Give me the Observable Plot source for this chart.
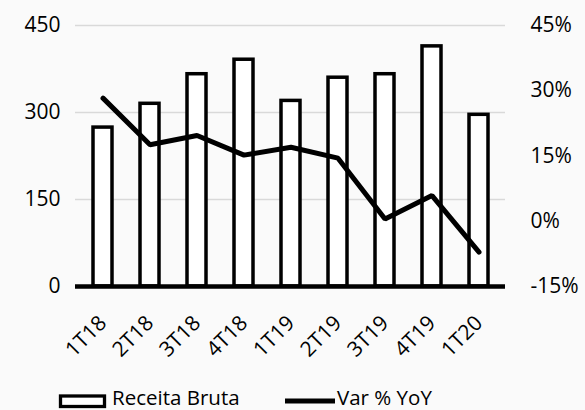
<!DOCTYPE html>
<html><head><meta charset="utf-8">
<script src="https://cdn.jsdelivr.net/npm/d3@7"></script>
<script src="https://cdn.jsdelivr.net/npm/@observablehq/plot@0.6"></script>
<style>
body{margin:0;background:#fafafa;font-family:"Open Sans",sans-serif;}
#wrap{position:relative;width:585px;height:410px;overflow:hidden;background:#fafafa;}
#chart{position:absolute;left:0;top:0;}
#legend{position:absolute;left:0;top:380px;}
</style></head><body>
<div id="wrap"><div id="chart"></div><div id="legend"></div></div>
<script>
const quarters = ["1T18","2T18","3T18","4T18","1T19","2T19","3T19","4T19","1T20"];
const receitaBruta = [274, 315, 366, 391, 320, 360, 366, 414, 296];
const varYoY = [28.3, 17.6, 19.7, 15.2, 17.0, 14.5, 0.5, 5.9, -7.1];
const leftTicks = [0, 150, 300, 450];
const rightTicks = [-15, 0, 15, 30, 45];
const legendLabels = ["Receita Bruta", "Var % YoY"];

const toLeft = p => (p + 15) / 60 * 450;
const data = quarters.map((q, i) => ({q, v: receitaBruta[i], p: varYoY[i]}));

const chart = Plot.plot({
  width: 585, height: 380,
  marginLeft: 75, marginRight: 80, marginTop: 25, marginBottom: 94,
  style: {background: "transparent", fontFamily: "'Open Sans', sans-serif", fontSize: "21px", color: "#000"},
  x: {domain: quarters, paddingInner: 0.6, paddingOuter: 0.3, label: null},
  y: {domain: [0, 450], label: null},
  marks: [
    Plot.gridY(leftTicks.filter(d => d > 0), {stroke: "#d9d9d9", strokeOpacity: 1, strokeWidth: 1.5}),
    Plot.axisY(leftTicks, {anchor: "left", tickSize: 0, tickPadding: 15, label: null, fontSize: 21}),
    Plot.axisY(rightTicks.map(toLeft), {anchor: "right", tickSize: 0, tickPadding: 25, label: null, fontSize: 21,
      tickFormat: d => Math.round(d / 450 * 60 - 15) + "%"}),
    Plot.axisX({tickRotate: -45, tickSize: 0, tickPadding: 33, label: null, fontSize: 21}),
    Plot.barY(data, {x: "q", y: "v", fill: "white", stroke: "black", strokeWidth: 3.5}),
    Plot.ruleY([0], {stroke: "black", strokeWidth: 4.5}),
    Plot.line(data, {x: "q", y: d => toLeft(d.p), stroke: "black", strokeWidth: 5, strokeLinejoin: "miter"})
  ]
});
document.getElementById("chart").appendChild(chart);

const ns = "http://www.w3.org/2000/svg";
const lg = document.createElementNS(ns, "svg");
lg.setAttribute("width", 585); lg.setAttribute("height", 30);
lg.innerHTML = `
<rect x="60.5" y="16" width="44" height="10.5" fill="white" stroke="black" stroke-width="3.3"/>
<text x="112" y="25" font-family="'Open Sans', sans-serif" font-size="20.5" fill="#000">${legendLabels[0]}</text>
<line x1="285" y1="21" x2="335" y2="21" stroke="black" stroke-width="5"/>
<text x="337" y="25" font-family="'Open Sans', sans-serif" font-size="20.5" fill="#000">${legendLabels[1]}</text>`;
document.getElementById("legend").appendChild(lg);
</script>
</body></html>
